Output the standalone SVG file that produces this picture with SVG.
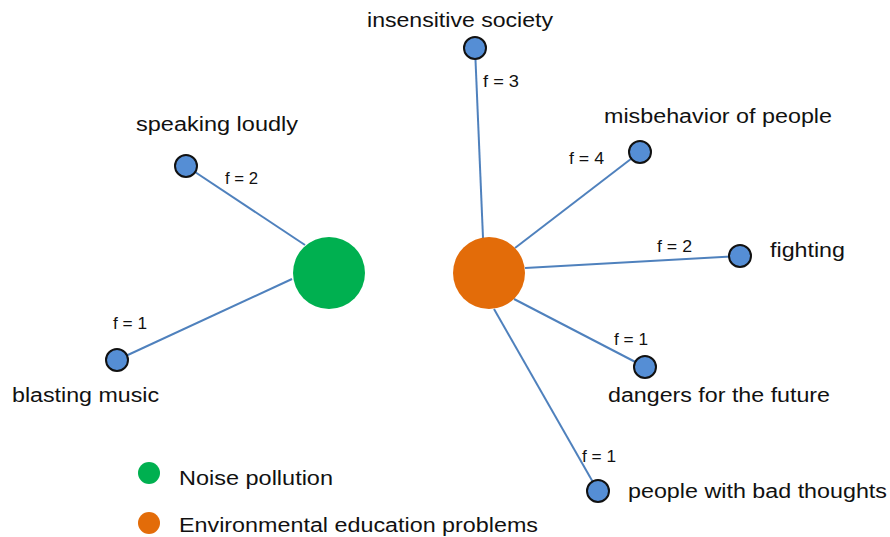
<svg xmlns="http://www.w3.org/2000/svg" width="890" height="537" viewBox="0 0 890 537">
<style>
.edge{stroke:#4F81BD;stroke-width:2;fill:none}
.leaf{fill:#558ED5;stroke:#111;stroke-width:2}
.lbl{font-family:"Liberation Sans",Arial,sans-serif;font-size:20px;fill:#111}
.f{font-family:"Liberation Sans",Arial,sans-serif;font-size:16px;fill:#111}
</style>
<rect width="890" height="537" fill="#fff"/>
<g id="connectors">
<line class="edge" x1="186" y1="166" x2="305" y2="245"/>
<line class="edge" x1="117" y1="360" x2="292" y2="279"/>
<line class="edge" x1="475" y1="48" x2="483" y2="238"/>
<line class="edge" x1="640" y1="152" x2="515" y2="248"/>
<line class="edge" x1="740" y1="256" x2="525" y2="268"/>
<line class="edge" x1="645" y1="367" x2="514" y2="299"/>
<line class="edge" x1="598" y1="491" x2="494" y2="309"/>
<text class="f" x="225" y="184" textLength="33" lengthAdjust="spacingAndGlyphs">f = 2</text>
<text class="f" x="113" y="329" textLength="34" lengthAdjust="spacingAndGlyphs">f = 1</text>
<text class="f" x="483" y="87" textLength="36" lengthAdjust="spacingAndGlyphs">f = 3</text>
<text class="f" x="569" y="164" textLength="35" lengthAdjust="spacingAndGlyphs">f = 4</text>
<text class="f" x="657" y="252" textLength="35" lengthAdjust="spacingAndGlyphs">f = 2</text>
<text class="f" x="614" y="345" textLength="34" lengthAdjust="spacingAndGlyphs">f = 1</text>
<text class="f" x="582" y="462" textLength="34" lengthAdjust="spacingAndGlyphs">f = 1</text>
</g>
<g id="noise-pollution"><circle cx="329" cy="273" r="36" fill="#00B050"/></g>
<g id="environmental-education"><circle cx="489" cy="273" r="36" fill="#E36C09"/></g>
<g id="speaking-loudly"><circle class="leaf" cx="186" cy="166" r="11"/><text class="lbl" x="136" y="131" textLength="162" lengthAdjust="spacingAndGlyphs">speaking loudly</text></g>
<g id="blasting-music"><circle class="leaf" cx="117" cy="360" r="11"/><text class="lbl" x="12" y="402" textLength="147" lengthAdjust="spacingAndGlyphs">blasting music</text></g>
<g id="insensitive-society"><circle class="leaf" cx="475" cy="48" r="11"/><text class="lbl" x="367" y="27" textLength="186" lengthAdjust="spacingAndGlyphs">insensitive society</text></g>
<g id="misbehavior-of-people"><circle class="leaf" cx="640" cy="152" r="11"/><text class="lbl" x="604" y="123" textLength="228" lengthAdjust="spacingAndGlyphs">misbehavior of people</text></g>
<g id="fighting"><circle class="leaf" cx="740" cy="256" r="11"/><text class="lbl" x="770" y="257" textLength="75" lengthAdjust="spacingAndGlyphs">fighting</text></g>
<g id="dangers-for-the-future"><circle class="leaf" cx="645" cy="367" r="11"/><text class="lbl" x="608" y="402" textLength="222" lengthAdjust="spacingAndGlyphs">dangers for the future</text></g>
<g id="people-with-bad-thoughts"><circle class="leaf" cx="598" cy="491" r="11"/><text class="lbl" x="628" y="498" textLength="259" lengthAdjust="spacingAndGlyphs">people with bad thoughts</text></g>
<g id="legend">
<circle cx="149" cy="473" r="11" fill="#00B050"/>
<text class="lbl" x="179" y="485" textLength="154" lengthAdjust="spacingAndGlyphs">Noise pollution</text>
<circle cx="149" cy="523" r="11" fill="#E36C09"/>
<text class="lbl" x="179" y="532" textLength="359" lengthAdjust="spacingAndGlyphs">Environmental education problems</text>
</g>
</svg>
